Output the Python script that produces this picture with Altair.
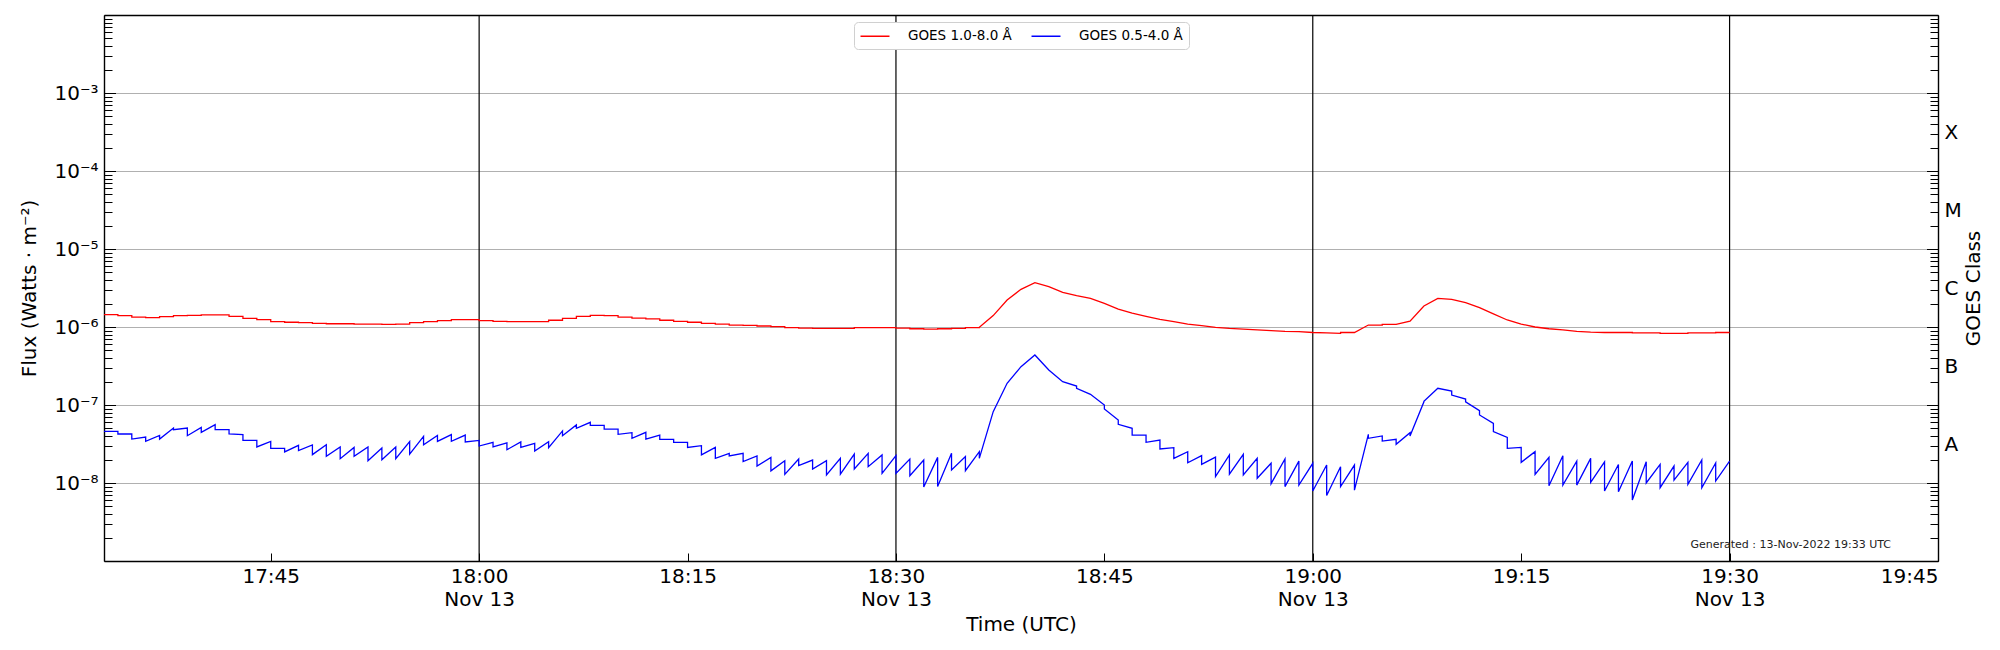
import altair as alt
import pandas as pd
from datetime import datetime, timedelta

# ---------------- data ----------------
RED_LABEL = "GOES 1.0-8.0 Å"
BLUE_LABEL = "GOES 0.5-4.0 Å"

# 1-minute segments starting 2022-11-13 17:33 UTC; flux at start / end of each minute
red_start = [  # x 1e-6 W/m^2
    1.44, 1.40, 1.34, 1.32, 1.36, 1.40, 1.41, 1.43, 1.43, 1.37,
    1.29, 1.24, 1.17, 1.15, 1.14, 1.11, 1.10, 1.10, 1.09, 1.09,
    1.08, 1.09, 1.14, 1.17, 1.21, 1.24, 1.24, 1.21, 1.18, 1.17,
    1.17, 1.17, 1.22, 1.29, 1.37, 1.41, 1.40, 1.34, 1.30, 1.27,
    1.22, 1.18, 1.15, 1.11, 1.09, 1.06, 1.05, 1.03, 1.01, 0.98,
    0.97, 0.96, 0.96, 0.96, 0.98, 0.98, 0.98, 0.97, 0.95, 0.94,
    0.95, 0.96, 0.98, 0.99, 1.40, 2.22, 3.04, 3.70, 3.29, 2.78,
    2.52, 2.33, 2.01, 1.70, 1.51, 1.37, 1.25, 1.17, 1.09, 1.04,
    0.99, 0.96, 0.94, 0.92, 0.90, 0.88, 0.87, 0.85, 0.84, 0.85,
    0.85, 1.06, 1.08, 1.08, 1.19, 1.86, 2.33, 2.26, 2.05, 1.77,
    1.47, 1.23, 1.09, 1.00, 0.95, 0.92, 0.88, 0.86, 0.85, 0.85,
    0.84, 0.84, 0.83, 0.83, 0.84, 0.84, 0.85,
]
red_end = [  # x 1e-6 W/m^2
    1.44, 1.40, 1.34, 1.32, 1.36, 1.40, 1.41, 1.43, 1.43, 1.37,
    1.29, 1.24, 1.17, 1.15, 1.14, 1.11, 1.10, 1.10, 1.09, 1.09,
    1.08, 1.09, 1.14, 1.17, 1.21, 1.24, 1.24, 1.21, 1.18, 1.17,
    1.17, 1.17, 1.22, 1.29, 1.37, 1.41, 1.40, 1.34, 1.30, 1.27,
    1.22, 1.18, 1.15, 1.11, 1.09, 1.06, 1.05, 1.03, 1.01, 0.98,
    0.97, 0.96, 0.96, 0.96, 0.98, 0.98, 0.98, 0.97, 0.95, 0.94,
    0.95, 0.96, 0.98, 1.40, 2.22, 3.04, 3.70, 3.29, 2.78, 2.52,
    2.33, 2.01, 1.70, 1.51, 1.37, 1.25, 1.17, 1.09, 1.04, 0.99,
    0.96, 0.94, 0.92, 0.90, 0.88, 0.87, 0.85, 0.84, 0.83, 0.85,
    1.06, 1.06, 1.08, 1.19, 1.86, 2.33, 2.26, 2.05, 1.77, 1.47,
    1.23, 1.09, 1.00, 0.95, 0.92, 0.88, 0.86, 0.85, 0.85, 0.85,
    0.84, 0.84, 0.83, 0.83, 0.84, 0.84, 0.85,
]
blue_start = [  # x 1e-8 W/m^2
    4.59, 4.25, 3.66, 3.42, 3.66, 4.83, 4.04, 4.46, 4.83, 4.25,
    3.52, 2.90, 2.78, 2.50, 2.60, 2.31, 2.20, 2.05, 2.20, 1.93,
    1.99, 2.05, 2.35, 3.10, 3.42, 3.42, 3.36, 2.98, 2.90, 2.67,
    2.86, 2.57, 2.84, 4.04, 5.02, 5.48, 4.92, 4.21, 3.74, 3.66,
    3.63, 3.32, 2.86, 2.29, 2.07, 2.22, 1.88, 1.65, 1.43, 1.29,
    1.67, 1.51, 1.27, 1.30, 1.51, 1.62, 1.33, 1.33, 1.24, 0.89,
    0.90, 1.47, 1.44, 2.07, 8.22, 19.0, 31.0, 43.8, 28.1, 19.9,
    16.4, 13.7, 8.89, 5.65, 4.12, 3.32, 2.73, 2.07, 1.82, 1.73,
    1.21, 1.30, 1.27, 1.15, 0.98, 0.90, 0.94, 0.79, 0.69, 0.90,
    0.81, 3.74, 3.45, 3.13, 4.01, 11.2, 16.4, 13.4, 11.0, 7.45,
    4.55, 2.78, 1.84, 1.29, 0.92, 0.94, 0.94, 1.02, 0.79, 0.77,
    0.605, 1.00, 0.87, 1.09, 0.96, 0.87, 1.06,
]
blue_end = [  # x 1e-8 W/m^2
    4.59, 4.25, 3.89, 4.08, 5.07, 5.07, 5.17, 5.60, 4.83, 4.17,
    3.52, 3.42, 2.78, 3.04, 3.07, 3.10, 2.90, 2.86, 2.90, 2.81,
    2.90, 3.39, 3.96, 4.08, 4.17, 4.12, 3.52, 3.32, 3.26, 3.36,
    3.23, 3.39, 4.65, 5.55, 6.00, 5.48, 4.92, 4.42, 4.46, 4.12,
    3.63, 3.32, 3.01, 2.86, 2.40, 2.40, 2.22, 2.13, 1.93, 2.03,
    1.97, 1.93, 2.07, 2.35, 2.40, 2.29, 2.24, 2.03, 1.97, 2.13,
    2.40, 2.18, 2.52, 8.22, 19.0, 31.0, 43.8, 28.1, 19.9, 17.5,
    13.7, 10.0, 6.43, 5.02, 4.12, 3.56, 2.84, 2.52, 2.24, 2.15,
    2.29, 2.33, 2.07, 1.79, 2.03, 1.91, 1.79, 1.70, 1.62, 1.70,
    4.21, 4.01, 3.63, 4.42, 11.0, 16.4, 15.1, 11.9, 8.45, 5.82,
    3.85, 2.86, 2.52, 2.13, 2.24, 1.91, 2.07, 1.87, 1.73, 1.91,
    1.87, 1.73, 1.65, 1.84, 1.97, 1.81, 1.91,
]

vline_times = ["2022-11-13T18:00:00Z", "2022-11-13T18:30:00Z",
               "2022-11-13T19:00:00Z", "2022-11-13T19:30:00Z"]
decades = [1e-8, 1e-7, 1e-6, 1e-5, 1e-4, 1e-3]
class_labels = ["A", "B", "C", "M", "X"]
class_centers = [10 ** -7.5, 10 ** -6.5, 10 ** -5.5, 10 ** -4.5, 10 ** -3.5]
GEN_TEXT = "Generated : 13-Nov-2022 19:33 UTC"

# ---------------- build table ----------------
t0 = datetime(2022, 11, 13, 17, 33)


def iso(t):
    return t.strftime("%Y-%m-%dT%H:%M:%SZ")


rows = []
for name, s, e, k in ((RED_LABEL, red_start, red_end, 1e-6),
                      (BLUE_LABEL, blue_start, blue_end, 1e-8)):
    for i in range(len(s)):
        rows.append({"series": name, "t": iso(t0 + timedelta(minutes=i)),
                     "f": s[i] * k, "o": 2 * i})
        rows.append({"series": name, "t": iso(t0 + timedelta(minutes=i + 1)),
                     "f": e[i] * k, "o": 2 * i + 1})
df = pd.DataFrame(rows)


def dt(h, m, s=0):
    return alt.DateTime(year=2022, month=11, date=13, hours=h, minutes=m,
                        seconds=s, utc=True)


W, H = 1834, 546
FONT = "DejaVu Sans"
FRAME = dict(domain=True, domainColor="black", domainWidth=1.4)
x_scale = alt.Scale(type="utc", domain=[dt(17, 33), dt(19, 45)], nice=False)
y_scale = alt.Scale(type="log", domain=[1e-9, 1e-2], nice=False)

xtick_vals = [dt(17, 45), dt(18, 0), dt(18, 15), dt(18, 30), dt(18, 45),
              dt(19, 0), dt(19, 15), dt(19, 30), dt(19, 45)]
all_y_ticks = [k * 10.0 ** e for e in range(-9, -2) for k in range(1, 10)] + [1e-2]
major_test = "abs(log(datum.value)/LN10 - round(log(datum.value)/LN10)) < 0.001"
ytick_size = {"condition": {"test": major_test, "value": 11.5}, "value": 8}

sup = "['⁰','¹','²','³','⁴','⁵','⁶','⁷','⁸','⁹']"
ylab_expr = "'10⁻' + " + sup + "[-round(log(datum.value)/LN10)]"
cls_expr = "['A','B','C','M','X'][round(log(datum.value)/LN10 + 7.5)]"
xlab_expr = ("utcminutes(datum.value) % 30 == 0 ? "
             "[utcFormat(datum.value, '%H:%M'), 'Nov 13'] : utcFormat(datum.value, '%H:%M')")

txt = dict(labelFont=FONT, labelFontSize=20, labelColor="black",
           titleFont=FONT, titleFontSize=20, titleColor="black",
           titleFontWeight="normal")

# main lines with left labelled axis + grid
lines = alt.Chart(df).mark_line(strokeWidth=1.3).encode(
    x=alt.X("t:T", scale=x_scale, axis=None),
    y=alt.Y("f:Q", scale=y_scale, axis=alt.Axis(
        orient="left", values=decades, labelExpr=ylab_expr, ticks=False,
        grid=True, gridColor="#b0b0b0", gridWidth=1,
        labelPadding=6, title="Flux (Watts · m⁻²)", titleX=-75, titleY=H / 2,
        titleAngle=270, titleAlign="center", titleBaseline="middle",
        **FRAME, **txt)),
    color=alt.Color("series:N", scale=alt.Scale(domain=[RED_LABEL, BLUE_LABEL],
                                                range=["#ff0000", "#0000ff"]),
                    legend=alt.Legend(
                        title=None, orient="none", legendX=750, legendY=7,
                        direction="horizontal", symbolType="M-2,0L2,0",
                        symbolSize=210, symbolStrokeWidth=1.5, symbolOffset=7,
                        labelOffset=25, labelFont=FONT, labelFontSize=13.5,
                        labelColor="black", columnPadding=16, padding=6,
                        strokeColor="#d0d0d0", cornerRadius=4, fillColor="white")),
    order="o:Q",
)

# vertical black lines + bottom labelled axis
vlines = alt.Chart(pd.DataFrame({"t": vline_times})).mark_rule(
    color="black", strokeWidth=1.2).encode(
    x=alt.X("t:T", scale=x_scale, axis=alt.Axis(
        orient="bottom", values=xtick_vals, labelExpr=xlab_expr, ticks=False,
        grid=False, labelPadding=5, labelLineHeight=23,
        title="Time (UTC)", titleX=W / 2, titleY=63, titleAlign="center",
        titleBaseline="middle", **FRAME, **txt)),
)

# inward ticks: left edge (y) and bottom edge (x)
ticks_left = alt.Chart(df).mark_line(opacity=0).encode(
    x=alt.X("t:T", scale=x_scale, axis=alt.Axis(
        orient="top", offset=-H, values=xtick_vals, labels=False, domain=False,
        grid=False, ticks=True, tickSize=8, tickColor="black", tickWidth=1,
        title=None)),
    y=alt.Y("f:Q", scale=y_scale, axis=alt.Axis(
        orient="right", offset=-W, values=all_y_ticks, labels=False,
        domain=False, grid=False, ticks=True, tickColor="black", tickWidth=1,
        tickSize=ytick_size, title=None)),
    detail="series:N",
)

# inward ticks: right edge; top frame line
ticks_right = alt.Chart(df).mark_line(opacity=0).encode(
    x=alt.X("t:T", scale=x_scale, axis=alt.Axis(
        orient="top", values=xtick_vals, labels=False, ticks=False, grid=False,
        title=None, **FRAME)),
    y=alt.Y("f:Q", scale=y_scale, axis=alt.Axis(
        orient="left", offset=-W, values=all_y_ticks, labels=False,
        domain=False, grid=False, ticks=True, tickColor="black", tickWidth=1,
        tickSize=ytick_size, title=None)),
    detail="series:N",
)

# GOES class labels on the right (with right frame line)
classes = alt.Chart(df).mark_line(opacity=0).encode(
    x=alt.X("t:T", scale=x_scale, axis=None),
    y=alt.Y("f:Q", scale=y_scale, axis=alt.Axis(
        orient="right", values=class_centers, labelExpr=cls_expr, ticks=False,
        grid=False, labelPadding=6, title="GOES Class",
        titleX=35, titleY=H / 2, titleAngle=270, titleAlign="center",
        titleBaseline="middle", **FRAME, **txt)),
    detail="series:N",
)

gen = alt.Chart(pd.DataFrame({"t": ["2022-11-13T19:34:24Z"], "f": [1.48e-9],
                              "txt": [GEN_TEXT]})).mark_text(
    font=FONT, fontSize=11, color="#222222", align="center",
    baseline="alphabetic").encode(
    x=alt.X("t:T", scale=x_scale, axis=None),
    y=alt.Y("f:Q", scale=y_scale, axis=None),
    text="txt:N",
)

chart = alt.layer(vlines, lines, ticks_left, ticks_right, classes, gen).resolve_axis(
    x="independent", y="independent"
).properties(
    width=W, height=H,
    autosize=alt.AutoSizeParams(type="none"),
    padding={"left": 96, "top": 7, "right": 50, "bottom": 81},
    background="white",
).configure_view(
    stroke="#000000", strokeWidth=1.4, strokeOpacity=1
).configure(font=FONT)

chart.save("out.html", embed_options={"renderer": "svg", "actions": False})
